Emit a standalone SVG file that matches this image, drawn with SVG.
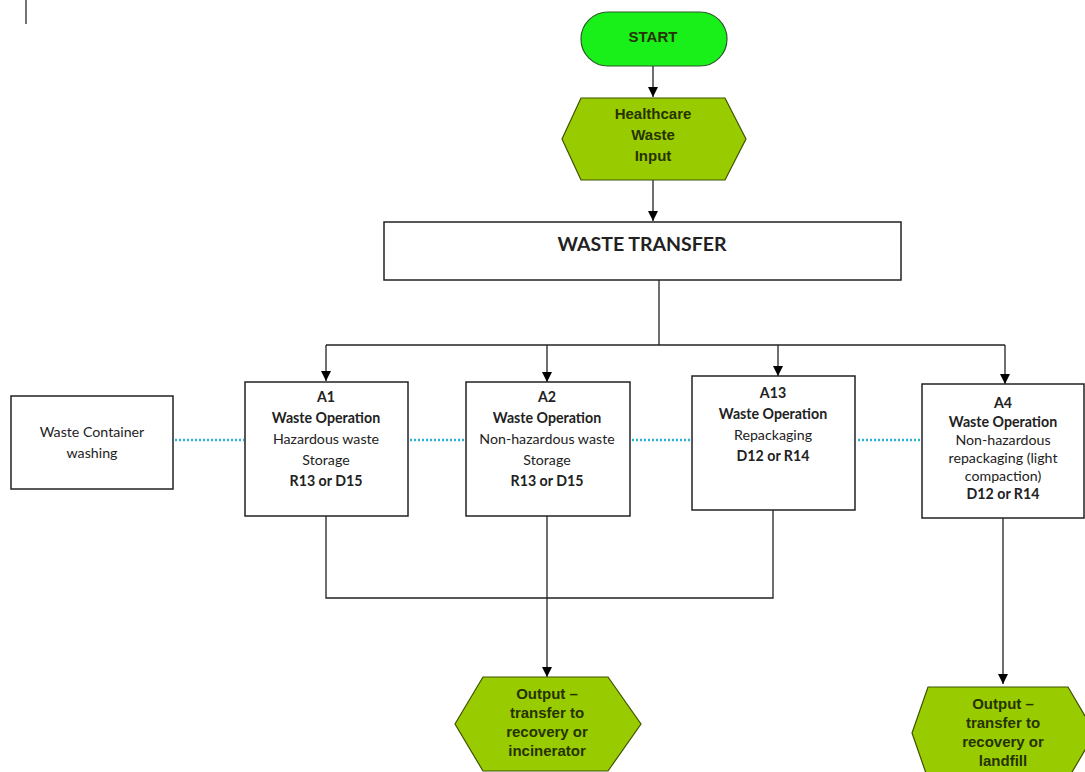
<svg xmlns="http://www.w3.org/2000/svg" width="1085" height="772" viewBox="0 0 1085 772">
<defs>
<marker id="arr" viewBox="0 0 10 10" refX="10" refY="5" markerWidth="10" markerHeight="10" markerUnits="userSpaceOnUse" orient="auto">
<path d="M0,0 L10,5 L0,10 z" fill="#000"/>
</marker>
<style>
.box{fill:#fff;stroke:#222;stroke-width:1.5}
.hex{fill:#99cc00;stroke:#3d5200;stroke-width:1.2}
.pill{fill:#19f019;stroke:#2a5a2a;stroke-width:1.2}
.ln{fill:none;stroke:#222;stroke-width:1.3}
.dot{fill:none;stroke:#2cb5d6;stroke-width:2.5;stroke-dasharray:2 2}
.t{font-family:Lato,"Liberation Sans",sans-serif;font-size:14.2px;fill:#222;text-anchor:middle;dominant-baseline:central}
.b{font-weight:bold}
.h{font-family:"Liberation Sans",Arial,sans-serif;font-size:15px;font-weight:bold;fill:#263300;text-anchor:middle;dominant-baseline:central}
</style>
</defs>
<rect width="1085" height="772" fill="#fff"/>
<line x1="26" y1="0" x2="26" y2="24" stroke="#444" stroke-width="1.5"/>

<g id="connectors">
<line class="ln" x1="653" y1="66" x2="653" y2="97" marker-end="url(#arr)"/>
<line class="ln" x1="653" y1="180" x2="653" y2="221" marker-end="url(#arr)"/>
<polyline class="ln" points="659,280 659,345"/>
<line class="ln" x1="326" y1="345" x2="1005" y2="345"/>
<line class="ln" x1="326" y1="345" x2="326" y2="381" marker-end="url(#arr)"/>
<line class="ln" x1="547" y1="345" x2="547" y2="382" marker-end="url(#arr)"/>
<line class="ln" x1="778" y1="345" x2="778" y2="376" marker-end="url(#arr)"/>
<line class="ln" x1="1005" y1="345" x2="1005" y2="384" marker-end="url(#arr)"/>
<polyline class="ln" points="326,516 326,598 773,598 773,510"/>
<line class="ln" x1="547" y1="516" x2="547" y2="677" marker-end="url(#arr)"/>
<line class="ln" x1="1003" y1="518" x2="1003" y2="684" marker-end="url(#arr)"/>
<line class="dot" x1="175" y1="440" x2="244" y2="440"/>
<line class="dot" x1="410" y1="440" x2="465" y2="440"/>
<line class="dot" x1="632" y1="440" x2="690" y2="440"/>
<line class="dot" x1="858" y1="440" x2="921" y2="440"/>
</g>

<g id="start">
<rect class="pill" x="581" y="12" width="146" height="54" rx="27"/>
<text class="h" x="653" y="36" fill="#2d3d2d">START</text>
</g>

<g id="input">
<polygon class="hex" points="581,98 725,98 746,139 725,180 581,180 562,139"/>
<text class="h" x="653" y="113">Healthcare</text>
<text class="h" x="653" y="134">Waste</text>
<text class="h" x="653" y="155">Input</text>
</g>

<g id="transfer">
<rect class="box" x="384" y="222" width="517" height="58"/>
<text class="t b" x="642" y="243" style="font-size:19.5px">WASTE TRANSFER</text>
</g>

<g id="washing">
<rect class="box" x="11" y="396" width="162" height="93"/>
<text class="t" x="92" y="431">Waste Container</text>
<text class="t" x="92" y="452">washing</text>
</g>

<g id="a1">
<rect class="box" x="245" y="382" width="163" height="134"/>
<text class="t b" x="326" y="396">A1</text>
<text class="t b" x="326" y="417">Waste Operation</text>
<text class="t" x="326" y="438">Hazardous waste</text>
<text class="t" x="326" y="459">Storage</text>
<text class="t b" x="326" y="480">R13 or D15</text>
</g>

<g id="a2">
<rect class="box" x="466" y="382" width="164" height="134"/>
<text class="t b" x="547" y="396">A2</text>
<text class="t b" x="547" y="417">Waste Operation</text>
<text class="t" x="547" y="438">Non-hazardous waste</text>
<text class="t" x="547" y="459">Storage</text>
<text class="t b" x="547" y="480">R13 or D15</text>
</g>

<g id="a13">
<rect class="box" x="692" y="376" width="163" height="134"/>
<text class="t b" x="773" y="392">A13</text>
<text class="t b" x="773" y="413">Waste Operation</text>
<text class="t" x="773" y="434">Repackaging</text>
<text class="t b" x="773" y="455">D12 or R14</text>
</g>

<g id="a4">
<rect class="box" x="922" y="384" width="162" height="134"/>
<text class="t b" x="1003" y="402">A4</text>
<text class="t b" x="1003" y="421">Waste Operation</text>
<text class="t" x="1003" y="439">Non-hazardous</text>
<text class="t" x="1003" y="457">repackaging (light</text>
<text class="t" x="1003" y="475">compaction)</text>
<text class="t b" x="1003" y="493">D12 or R14</text>
</g>

<g id="out1">
<polygon class="hex" points="483,677 608,677 641,724 608,771 483,771 455,724"/>
<text class="h" x="547" y="693">Output –</text>
<text class="h" x="547" y="712">transfer to</text>
<text class="h" x="547" y="731">recovery or</text>
<text class="h" x="547" y="750">incinerator</text>
</g>

<g id="out2">
<polygon class="hex" points="928,687 1068,687 1095,733 1068,779 928,779 912,733"/>
<text class="h" x="1003" y="703">Output –</text>
<text class="h" x="1003" y="722">transfer to</text>
<text class="h" x="1003" y="741">recovery or</text>
<text class="h" x="1003" y="760">landfill</text>
</g>
</svg>
